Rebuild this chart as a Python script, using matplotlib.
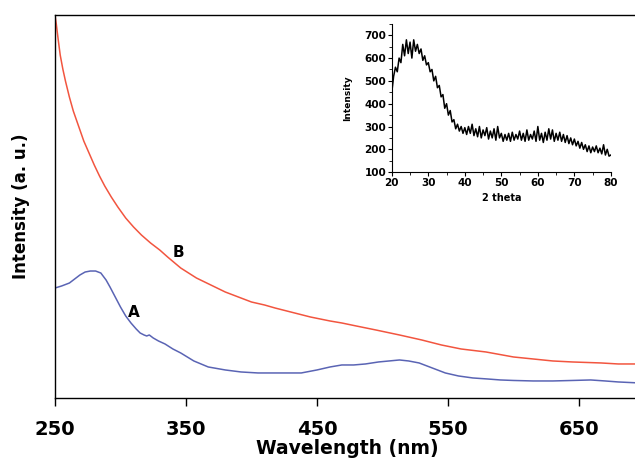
import matplotlib
matplotlib.use('Agg')
import matplotlib.pyplot as plt
from matplotlib.ticker import MultipleLocator

# main spectra (wavelength nm, intensity a.u.)
wl_a = [250, 255, 261, 265, 269, 273, 277, 281, 285, 289, 292, 296, 300, 304, 308,
        312, 315, 318, 320, 322, 325, 329, 334, 340, 346, 356, 367, 380, 392, 405, 418,
        430, 438, 450, 460, 469, 478, 487, 497, 505, 513, 520, 528, 538, 548, 558,
        569, 580, 590, 600, 615, 630, 645, 659, 670, 680, 696]
int_a = [110, 112, 115, 119, 123, 126, 127, 127, 125, 118, 111, 101, 91, 82, 75,
         69, 65, 63, 62, 63, 60, 57, 54, 49, 45, 37, 31, 28, 26, 25, 25,
         25, 25, 28, 31, 33, 33, 34, 36, 37, 38, 37, 35, 30, 25, 22,
         20, 19, 18, 17.5, 17, 17, 17.5, 18, 17, 16, 15]

wl_b = [250, 251, 252.5, 254, 256, 258, 261, 264, 268, 272, 276, 280, 284, 288, 293,
        298, 304, 310, 316, 323, 330, 336, 346, 358, 369, 380, 390, 400, 410, 418,
        430, 445, 460, 469, 480, 495, 513, 530, 545, 560, 579, 600, 615, 630, 645,
        667, 680, 696]
int_b = [383, 374, 358, 343, 329, 317, 301, 287, 272, 257, 245, 233, 222, 212, 201,
         191, 180, 171, 163, 155, 148, 141, 130, 120, 113, 106, 101, 96, 93, 90,
         86, 81, 77, 75, 72, 68, 63, 58, 53, 49, 46, 41, 39, 37, 36,
         35, 34, 34]

# inset XRD pattern (2 theta, intensity), read every 0.5 deg
theta = [20 + 0.5 * i for i in range(121)]
xrd = [450, 520, 560, 540, 600, 580, 660, 610, 680, 620, 670, 600, 680, 630, 660, 620,
       640, 590, 610, 570, 580, 540, 550, 500, 520, 470, 480, 430, 440, 380, 400, 350,
       370, 320, 330, 290, 310, 280, 300, 270, 295, 265, 300, 270, 310, 260, 290, 255,
       300, 250, 285, 260, 295, 245, 280, 250, 290, 240, 300, 250, 270, 235, 265, 240,
       270, 235, 275, 240, 265, 245, 280, 240, 270, 235, 285, 240, 265, 245, 280, 235,
       300, 240, 270, 230, 275, 240, 290, 245, 285, 235, 270, 240, 275, 235, 265, 230,
       260, 225, 250, 220, 245, 215, 235, 205, 230, 200, 220, 190, 215, 185, 210, 190,
       215, 185, 205, 180, 220, 175, 200, 170, 175]

fig = plt.figure(figsize=(6.35, 4.59), dpi=100)
ax = fig.add_axes([0.0866, 0.133, 0.92, 0.834])
ax.plot(wl_a, int_a, color='#5a64b4', lw=1.1)
ax.plot(wl_b, int_b, color='#f2553f', lw=1.1)
ax.set_xlim(250, 696)
ax.set_ylim(0, 383)
ax.set_yticks([])
ax.set_xticks([250, 350, 450, 550, 650])
ax.tick_params(axis='x', direction='out', length=6, width=1, labelsize=14, pad=10)
for lbl in ax.get_xticklabels():
    lbl.set_fontweight('bold')
ax.spines['right'].set_visible(False)
for s in ['left', 'bottom', 'top']:
    ax.spines[s].set_linewidth(1.0)
ax.set_xlabel('Wavelength (nm)', fontsize=13.5, fontweight='bold', labelpad=0)
ax.set_ylabel('Intensity (a. u.)', fontsize=12, fontweight='bold', labelpad=18)
ax.text(344, 146, 'B', fontsize=11, fontweight='bold', ha='center', va='center')
ax.text(310, 85, 'A', fontsize=11, fontweight='bold', ha='center', va='center')

# inset
ins = fig.add_axes([0.617, 0.625, 0.345, 0.323])
ins.plot(theta, xrd, color='black', lw=1.1)
ins.set_xlim(20, 80)
ins.set_ylim(100, 750)
ins.set_xticks(range(20, 81, 10))
ins.set_yticks(range(100, 701, 100))
ins.xaxis.set_minor_locator(MultipleLocator(5))
ins.yaxis.set_minor_locator(MultipleLocator(50))
ins.tick_params(which='major', direction='out', length=3, labelsize=7.5, pad=1)
ins.tick_params(which='minor', direction='out', length=2)
for lbl in ins.get_xticklabels() + ins.get_yticklabels():
    lbl.set_fontweight('bold')
ins.spines['right'].set_visible(False)
ins.spines['top'].set_visible(False)
ins.set_xlabel('2 theta', fontsize=7, fontweight='bold', labelpad=4)
ins.set_ylabel('Intensity', fontsize=6.5, fontweight='bold', labelpad=9)

fig.savefig('out.png', dpi=100)
plt.close(fig)
